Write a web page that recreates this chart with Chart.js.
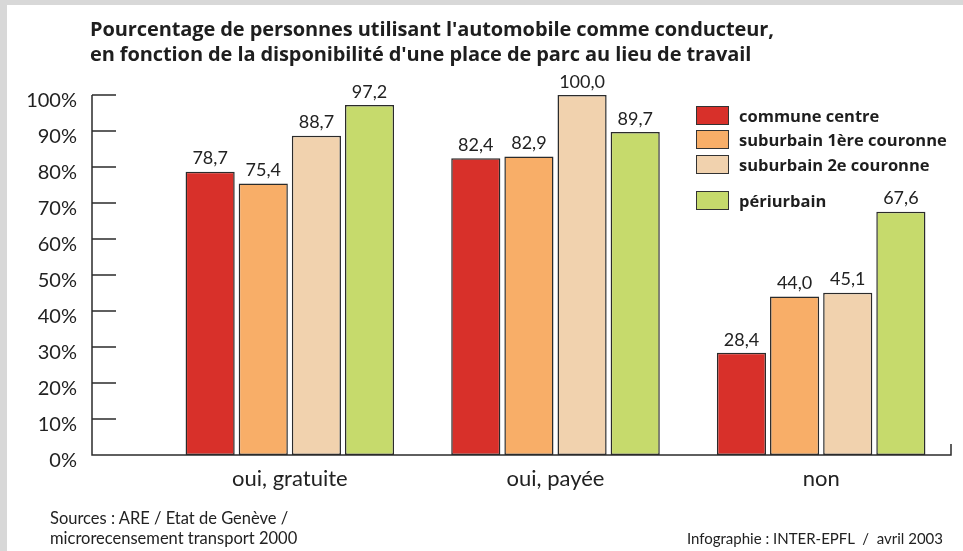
<!DOCTYPE html>
<html>
<head>
<meta charset="utf-8">
<script src="https://cdn.jsdelivr.net/npm/chart.js@4"></script>
<style>
    html, body { margin: 0; padding: 0; }
    body { width: 963px; height: 551px; background: #d8d8d8; position: relative; overflow: hidden; font-family: Lato, sans-serif; color: #222; }
    #panel { position: absolute; left: 7px; top: 5px; right: 0; bottom: 0; background: #fff; }
    #wrap { position: absolute; left: 0; top: 0; width: 963px; height: 551px; }
    #title { position: absolute; left: 90px; top: 16px; font-family: 'Open Sans', sans-serif; font-weight: bold; font-size: 20px; line-height: 25px; color: #1e1e1e; white-space: nowrap; letter-spacing: -0.1px; }
    #legend { position: absolute; left: 696px; top: 103px; }
    .item { display: flex; align-items: center; height: 24.5px; font-family: 'Open Sans', sans-serif; font-weight: bold; font-size: 16.5px; color: #1e1e1e; }
    .item.gap { margin-top: 12px; }
    .box { width: 31px; height: 17px; border: 1.5px solid #333; margin-right: 10px; }
    .foot { position: absolute; line-height: 20px; color: #222; white-space: nowrap; }
</style>
</head>
<body>
<div id="panel"></div>
<div id="wrap"><canvas id="chart" width="963" height="551"></canvas></div>
<div id="title">Pourcentage de personnes utilisant l'automobile comme conducteur,<br>en fonction de la disponibilité d'une place de parc au lieu de travail</div>
<div id="legend"></div>
<div class="foot" style="left:50px; top:508px; font-size:16.5px;">Sources : ARE / Etat de Genève /<br>microrecensement transport 2000</div>
<div class="foot" style="right:20px; top:528px; font-size:15px;">Infographie : INTER-EPFL &nbsp;/ &nbsp;avril 2003</div>

<script>
// categories (place de parc au lieu de travail)
const categories = ['oui, gratuite', 'oui, payée', 'non'];

// series values (%)
const communeCentre = [78.7, 82.4, 28.4];
const suburbain1 = [75.4, 82.9, 44.0];
const suburbain2 = [88.7, 100.0, 45.1];
const periurbain = [97.2, 89.7, 67.6];

const seriesNames = ['commune centre', 'suburbain 1ère couronne', 'suburbain 2e couronne', 'périurbain'];
const seriesColors = ['#d8302a', '#f8ae68', '#f1d2ae', '#c6da6c'];

// y axis ticks
const yTicks = [0, 10, 20, 30, 40, 50, 60, 70, 80, 90, 100];

const ink = '#2b2b2b';

// axis line drawn on the left of the bars, with inward tick marks
const axisPlugin = {
    id: 'axisLines',
    afterDatasetsDraw(chart) {
        const ctx = chart.ctx;
        const area = chart.chartArea;
        const y = chart.scales.y;
        const x0 = area.left - 65;
        ctx.save();
        ctx.strokeStyle = ink;
        ctx.lineWidth = 1.5;
        ctx.beginPath();
        ctx.moveTo(x0, y.getPixelForValue(100));
        ctx.lineTo(x0, y.getPixelForValue(0));
        ctx.lineTo(area.right - 3, y.getPixelForValue(0));
        ctx.lineTo(area.right - 3, y.getPixelForValue(0) - 11);
        yTicks.forEach(function (t) {
            if (t === 0) return;
            ctx.moveTo(x0, y.getPixelForValue(t));
            ctx.lineTo(x0 + 24, y.getPixelForValue(t));
        });
        ctx.stroke();
        ctx.restore();
    }
};

// value above each bar, with decimal comma
const valuePlugin = {
    id: 'valueLabels',
    afterDatasetsDraw(chart) {
        const ctx = chart.ctx;
        ctx.save();
        ctx.font = '18px Lato';
        ctx.fillStyle = '#222';
        ctx.textAlign = 'center';
        ctx.textBaseline = 'bottom';
        chart.data.datasets.forEach(function (ds, i) {
            chart.getDatasetMeta(i).data.forEach(function (bar, j) {
                ctx.fillText(ds.data[j].toFixed(1).replace('.', ','), bar.x, bar.y - 4);
            });
        });
        ctx.restore();
    }
};

function makeDataset(i, values) {
    return {
        label: seriesNames[i],
        data: values,
        backgroundColor: seriesColors[i],
        borderColor: ink,
        borderWidth: 1.5,
        borderSkipped: false,
        categoryPercentage: 0.8,
        barPercentage: 0.925
    };
}

function buildLegend() {
    const legend = document.getElementById('legend');
    seriesNames.forEach(function (name, i) {
        const item = document.createElement('div');
        item.className = 'item' + (i === 3 ? ' gap' : '');
        item.innerHTML = '<span class="box" style="background:' + seriesColors[i] + '"></span>' + name;
        legend.appendChild(item);
    });
}

function loadChart() {
    const ctx = document.getElementById('chart');
    new Chart(ctx, {
        type: 'bar',
        data: {
            labels: categories,
            datasets: [
                makeDataset(0, communeCentre),
                makeDataset(1, suburbain1),
                makeDataset(2, suburbain2),
                makeDataset(3, periurbain)
            ]
        },
        options: {
            responsive: false,
            animation: false,
            layout: {
                padding: { top: 95, right: 9, bottom: 56, left: 0 }
            },
            plugins: {
                legend: { display: false },
                tooltip: { enabled: false }
            },
            scales: {
                x: {
                    grid: { display: false, drawTicks: false },
                    border: { display: false },
                    ticks: { color: '#222', font: { family: 'Lato', size: 22 }, padding: 11 },
                    afterFit: function (scale) { scale.height = 40; }
                },
                y: {
                    min: 0,
                    max: 100,
                    grid: { display: false, drawTicks: false },
                    border: { display: false },
                    afterBuildTicks: function (scale) {
                        scale.ticks = yTicks.map(function (v) { return { value: v }; });
                    },
                    ticks: {
                        color: '#222',
                        font: { family: 'Lato', size: 20 },
                        padding: 80,
                        labelOffset: 6,
                        callback: function (v) { return v + '%'; }
                    },
                    afterFit: function (scale) { scale.width = 157; }
                }
            }
        },
        plugins: [axisPlugin, valuePlugin]
    });
}

buildLegend();
loadChart();
</script>
</body>
</html>
